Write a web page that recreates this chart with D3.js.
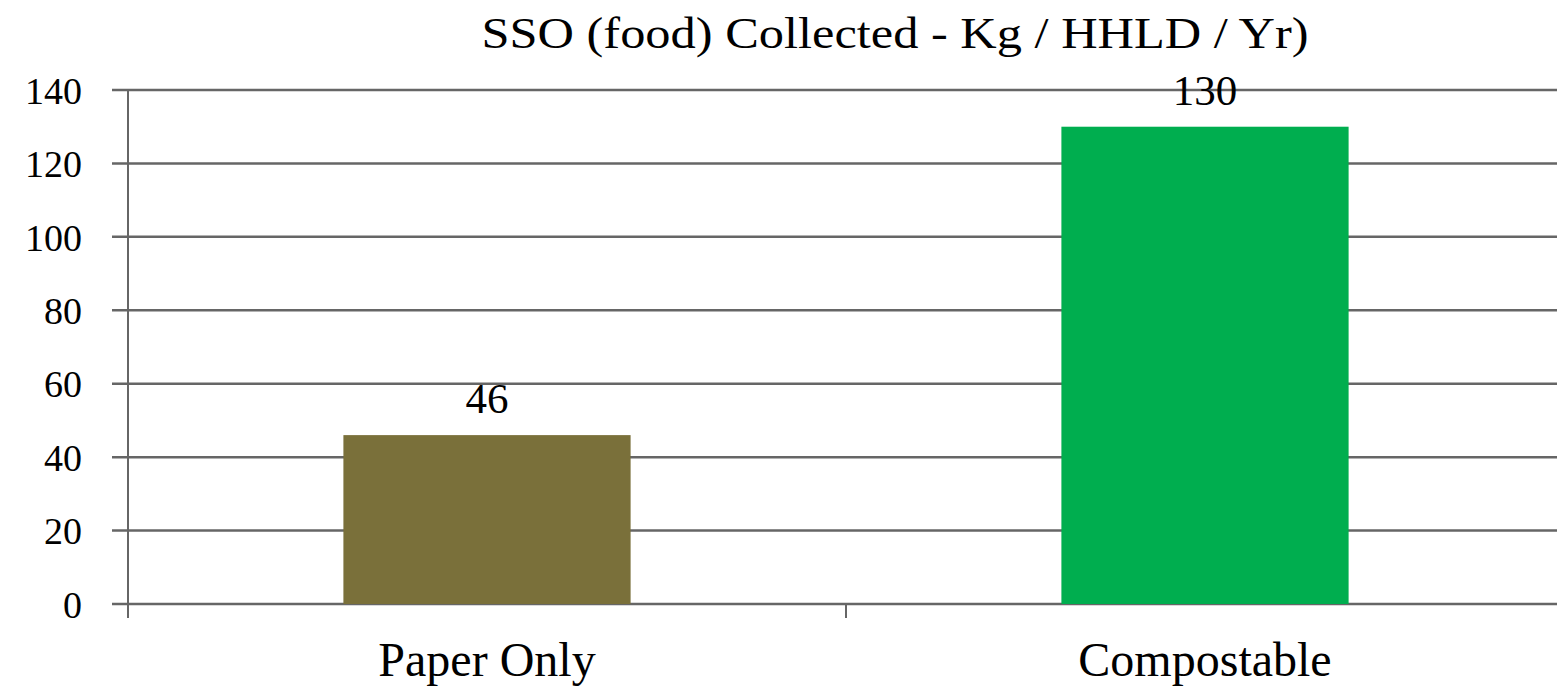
<!DOCTYPE html>
<html>
<head>
<meta charset="utf-8">
<script src="https://cdn.jsdelivr.net/npm/d3@7"></script>
<style>
  body { margin: 0; background: #fff; }
  text { font-family: "Liberation Serif", "DejaVu Serif", serif; fill: #000; }
</style>
</head>
<body>
<div id="chart"></div>
<script>
// SSO (food) collected per household per year
const categories = ["Paper Only", "Compostable"];
const values = [46, 130];
const barColors = ["#7A703A", "#00AE4F"];
const yTicks = [0, 20, 40, 60, 80, 100, 120, 140];

const width = 1557, height = 691;
const margin = { top: 90, right: -7, bottom: 87, left: 128 };

const svg = d3.select("#chart")
  .append("svg")
  .attr("width", width)
  .attr("height", height);

const g = svg.append("g")
  .attr("transform", `translate(${margin.left},${margin.top})`);

const innerW = width - margin.left - margin.right;
const innerH = height - margin.top - margin.bottom;

const x = d3.scaleBand()
  .domain(categories)
  .range([0, innerW])
  .paddingInner(0)
  .paddingOuter(0);

const y = d3.scaleLinear()
  .domain([0, 140])
  .range([innerH, 0]);

// gridlines
g.selectAll("line.grid")
  .data(yTicks)
  .join("line")
  .attr("class", "grid")
  .attr("x1", -16)
  .attr("x2", innerW)
  .attr("y1", d => y(d))
  .attr("y2", d => y(d))
  .attr("stroke", "#666")
  .attr("stroke-width", 2.5);

// y axis line
g.append("line")
  .attr("x1", 0).attr("x2", 0)
  .attr("y1", 0).attr("y2", innerH + 14)
  .attr("stroke", "#666")
  .attr("stroke-width", 2);

// category tick marks
g.selectAll("line.xtick")
  .data(categories.slice(1))
  .join("line")
  .attr("class", "xtick")
  .attr("x1", d => x(d)).attr("x2", d => x(d))
  .attr("y1", innerH).attr("y2", innerH + 14)
  .attr("stroke", "#666")
  .attr("stroke-width", 2);

// y tick labels
g.selectAll("text.ylab")
  .data(yTicks)
  .join("text")
  .attr("class", "ylab")
  .attr("x", -46)
  .attr("y", d => y(d))
  .attr("dy", "0.36em")
  .attr("text-anchor", "end")
  .attr("font-size", 38)
  .text(d => d);

const barW = x.bandwidth() * 0.4;

g.selectAll("rect.bar")
  .data(values)
  .join("rect")
  .attr("class", "bar")
  .attr("x", (d, i) => x(categories[i]) + (x.bandwidth() - barW) / 2)
  .attr("y", d => y(d))
  .attr("width", barW)
  .attr("height", d => innerH - y(d))
  .attr("fill", (d, i) => barColors[i]);

// value labels
g.selectAll("text.val")
  .data(values)
  .join("text")
  .attr("class", "val")
  .attr("x", (d, i) => x(categories[i]) + x.bandwidth() / 2)
  .attr("y", d => y(d) - 22)
  .attr("text-anchor", "middle")
  .attr("font-size", 43)
  .text(d => d);

// category labels
g.selectAll("text.cat")
  .data(categories)
  .join("text")
  .attr("class", "cat")
  .attr("x", d => x(d) + x.bandwidth() / 2)
  .attr("y", innerH + 72)
  .attr("text-anchor", "middle")
  .attr("font-size", 48)
  .text(d => d);

// title
svg.append("text")
  .attr("x", 895)
  .attr("y", 48)
  .attr("text-anchor", "middle")
  .attr("font-size", 45)
  .attr("textLength", 827)
  .attr("lengthAdjust", "spacingAndGlyphs")
  .text("SSO (food) Collected  - Kg / HHLD / Yr)");
</script>
</body>
</html>
